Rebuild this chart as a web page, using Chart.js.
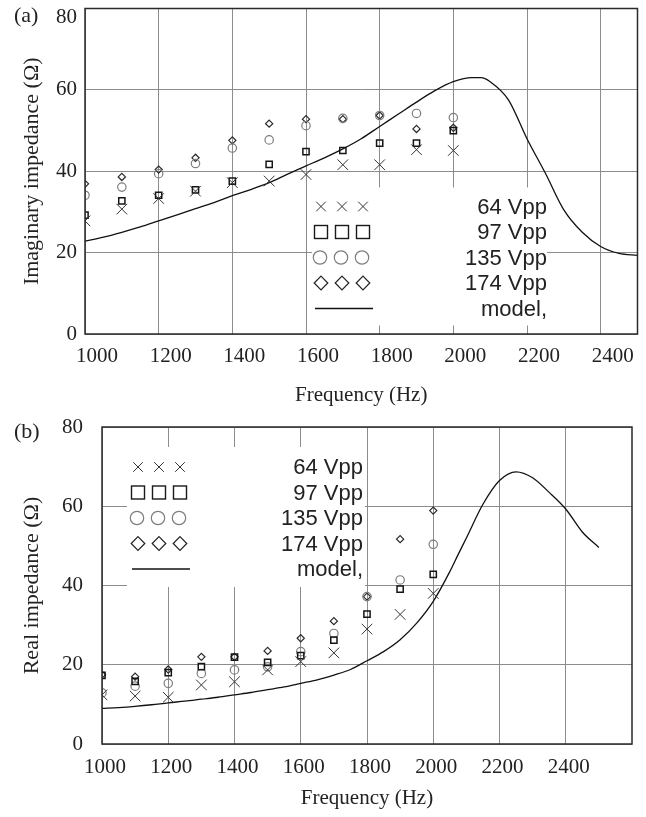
<!DOCTYPE html>
<html>
<head>
<meta charset="utf-8">
<script src="https://cdn.jsdelivr.net/npm/chart.js@4.4.1/dist/chart.umd.min.js"></script>
<style>
  html, body { margin: 0; padding: 0; background: #fff; width: 646px; height: 817px; overflow: hidden; }
  .panel { position: absolute; left: 0; width: 646px; }
  #panelA { top: 0; height: 410px; }
  #panelB { top: 410px; height: 407px; }
</style>
</head>
<body>
<div class="panel" id="panelA"><canvas id="chartA" width="646" height="410"></canvas></div>
<div class="panel" id="panelB"><canvas id="chartB" width="646" height="407"></canvas></div>
<script>
// Measured drive frequencies (Hz)
const freqs = [1000, 1100, 1200, 1300, 1400, 1500, 1600, 1700, 1800, 1900, 2000];

// (a) imaginary impedance (ohm) per drive level
const imag64  = [27.8, 30.7, 33.3, 35.1, 37.2, 37.6, 39.2, 41.6, 41.6, 45.3, 45.1];
const imag97  = [29.2, 32.7, 34.1, 35.4, 37.6, 41.7, 44.8, 45.1, 46.9, 46.9, 50.0];
const imag135 = [34.1, 36.1, 39.4, 41.9, 45.7, 47.7, 51.2, 53.0, 53.7, 54.2, 53.2];
const imag174 = [36.9, 38.6, 40.4, 43.3, 47.6, 51.7, 52.8, 52.8, 53.7, 50.4, 50.7];

// (b) real impedance (ohm) per drive level
const real64  = [12.4, 12.1, 11.8, 14.9, 15.7, 18.7, 20.8, 23.0, 29.0, 32.7, 38.0];
const real97  = [17.3, 15.8, 18.0, 19.5, 21.9, 20.6, 22.3, 26.2, 32.8, 39.1, 42.8];
const real135 = [12.9, 14.6, 15.3, 17.8, 18.7, 19.5, 23.3, 27.9, 37.2, 41.4, 50.4];
const real174 = [17.5, 17.0, 18.8, 22.0, 22.0, 23.5, 26.7, 31.0, 37.2, 51.7, 58.9];

// Model curves
const modelFreqs = [1000, 1050, 1100, 1150, 1200, 1250, 1300, 1350, 1400, 1450, 1500, 1550, 1600,
  1650, 1700, 1750, 1800, 1850, 1900, 1950, 2000, 2050, 2075, 2100, 2150, 2200, 2250, 2300, 2350,
  2400, 2450, 2500];
const modelImag = [22.8, 23.8, 25.0, 26.3, 27.8, 29.3, 30.8, 32.3, 34.0, 35.5, 37.2, 39.3, 41.3,
  43.3, 45.5, 48.0, 51.0, 54.0, 57.0, 59.8, 62.0, 63.0, 63.0, 62.0, 57.5, 48.0, 39.5, 30.5, 25.0,
  21.5, 19.8, 19.3];
const modelReal = [9.0, 9.2, 9.5, 9.9, 10.4, 10.8, 11.3, 11.8, 12.4, 13.0, 13.7, 14.4, 15.3,
  16.2, 17.4, 18.8, 21.0, 23.3, 26.3, 30.5, 36.0, 43.5, 47.8, 52.0, 60.5, 66.5, 68.7, 67.2, 63.5,
  59.3, 53.5, 49.6];

// Axis ticks
const freqTicks = [1000, 1200, 1400, 1600, 1800, 2000, 2200, 2400];
const impTicks = [0, 20, 40, 60, 80];
const seriesLabels = ['64 Vpp', '97 Vpp', '135 Vpp', '174 Vpp', 'model,'];

const SERIF = '"Liberation Serif", "Times New Roman", Times, serif';
const SANS = '"Liberation Sans", Arial, Helvetica, sans-serif';
const INK = '#222';
const GRID = '#8c8c8c';

function pairs(xs, ys) { return xs.map((x, i) => ({ x: x, y: ys[i] })); }

function makeDatasets(s64, s97, s135, s174, model) {
  return [
    { label: seriesLabels[0], data: pairs(freqs, s64), pointStyle: 'crossRot', pointRadius: 7.5,
      borderColor: '#333', borderWidth: 1, backgroundColor: 'transparent', showLine: false },
    { label: seriesLabels[1], data: pairs(freqs, s97), pointStyle: 'rect', pointRadius: 4.4,
      borderColor: '#151515', borderWidth: 1.5, backgroundColor: 'transparent', showLine: false },
    { label: seriesLabels[2], data: pairs(freqs, s135), pointStyle: 'circle', pointRadius: 4.2,
      borderColor: '#7d7d7d', borderWidth: 1.2, backgroundColor: 'transparent', showLine: false },
    { label: seriesLabels[3], data: pairs(freqs, s174), pointStyle: 'rectRot', pointRadius: 3.6,
      borderColor: '#2a2a2a', borderWidth: 1.2, backgroundColor: 'transparent', showLine: false },
    { label: seriesLabels[4], data: pairs(modelFreqs, model), showLine: true, pointRadius: 0,
      borderColor: '#111', borderWidth: 1.3, cubicInterpolationMode: 'monotone', fill: false }
  ];
}

// White legend panel with hand-drawn markers, placed inside the plot area
const plotLegend = {
  id: 'plotLegend',
  beforeDatasetsDraw(chart, args, o) {
    const ctx = chart.ctx;
    const a = chart.chartArea;
    const L = a.left, T = a.top;
    ctx.save();
    ctx.fillStyle = '#fff';
    ctx.fillRect(L + o.box[0], T + o.box[1], o.box[2] - o.box[0], o.box[3] - o.box[1]);
    const rowY = i => T + o.y0 + i * o.rowH;
    const colX = j => L + o.x0 + j * o.dx;
    for (let j = 0; j < 3; j++) {
      // cross
      let x = colX(j), y = rowY(0), h = 4.8;
      ctx.strokeStyle = '#333'; ctx.lineWidth = 1;
      ctx.beginPath(); ctx.moveTo(x - h, y - h); ctx.lineTo(x + h, y + h);
      ctx.moveTo(x - h, y + h); ctx.lineTo(x + h, y - h); ctx.stroke();
      // square
      y = rowY(1);
      ctx.strokeStyle = '#1a1a1a'; ctx.lineWidth = 1.4;
      ctx.strokeRect(x - 6.5, y - 6.5, 13, 13);
      // circle
      y = rowY(2);
      ctx.strokeStyle = '#7d7d7d'; ctx.lineWidth = 1.2;
      ctx.beginPath(); ctx.arc(x - 1, y, 6.7, 0, Math.PI * 2); ctx.stroke();
      // diamond
      y = rowY(3);
      ctx.strokeStyle = '#222'; ctx.lineWidth = 1.2;
      ctx.beginPath(); ctx.moveTo(x, y - 6.8); ctx.lineTo(x + 6.8, y); ctx.lineTo(x, y + 6.8);
      ctx.lineTo(x - 6.8, y); ctx.closePath(); ctx.stroke();
    }
    // model line sample
    ctx.strokeStyle = '#111'; ctx.lineWidth = 1.3;
    ctx.beginPath();
    ctx.moveTo(colX(0) - 6, rowY(4)); ctx.lineTo(colX(2) + 10, rowY(4)); ctx.stroke();
    // labels
    ctx.fillStyle = INK;
    ctx.font = '22px ' + SANS;
    ctx.textAlign = 'right';
    ctx.textBaseline = 'alphabetic';
    seriesLabels.forEach((t, i) => ctx.fillText(t, L + o.textRight, rowY(i) + o.textDy));
    ctx.restore();
  }
};

// Closed frame around the plot area plus the panel tag
const frameAndTag = {
  id: 'frameAndTag',
  afterDraw(chart, args, o) {
    const ctx = chart.ctx;
    const a = chart.chartArea;
    ctx.save();
    ctx.strokeStyle = '#2a2a2a';
    ctx.lineWidth = 1.5;
    ctx.strokeRect(a.left, a.top, a.right - a.left, a.bottom - a.top);
    ctx.fillStyle = INK;
    ctx.font = '22px ' + SERIF;
    ctx.textAlign = 'left';
    ctx.textBaseline = 'middle';
    ctx.fillText(o.text, o.x, o.y);
    ctx.restore();
  }
};

function makeChart(canvasId, cfg) {
  return new Chart(document.getElementById(canvasId), {
    type: 'scatter',
    data: { datasets: cfg.datasets },
    plugins: [plotLegend, frameAndTag],
    options: {
      responsive: false,
      animation: false,
      devicePixelRatio: 1,
      layout: { padding: { left: 0, right: cfg.padRight, top: cfg.padTop, bottom: 0 } },
      plugins: {
        legend: { display: false },
        tooltip: { enabled: false },
        plotLegend: cfg.legend,
        frameAndTag: cfg.tag
      },
      scales: {
        x: {
          type: 'linear',
          min: 1000,
          max: cfg.xMax,
          afterBuildTicks: s => { s.ticks = freqTicks.map(v => ({ value: v })); },
          afterFit: s => { s.height = cfg.xHeight; s.paddingLeft = 0; s.paddingRight = 0; },
          grid: { color: GRID, lineWidth: 1, drawTicks: false },
          border: { display: false },
          ticks: {
            color: INK, font: { family: SERIF, size: 21 }, padding: cfg.xTickPad,
            labelOffset: cfg.xLabelOffset, autoSkip: false, maxRotation: 0,
            callback: v => String(v)
          },
          title: {
            display: true, text: 'Frequency (Hz)', color: INK,
            font: { family: SERIF, size: 21 }, padding: { top: 0, bottom: cfg.xTitlePadBottom }
          }
        },
        y: {
          type: 'linear',
          min: 0,
          max: 80,
          afterBuildTicks: s => { s.ticks = impTicks.map(v => ({ value: v })); },
          afterFit: s => { s.width = cfg.yWidth; s.paddingTop = 0; s.paddingBottom = 0; },
          grid: { color: GRID, lineWidth: 1, drawTicks: false },
          border: { display: false },
          ticks: {
            color: INK, font: { family: SERIF, size: 21, lineHeight: 0.85 }, padding: cfg.yTickPad,
            // the top label sits just under the frame corner when the frame touches the page edge
            callback: v => (cfg.dropTopLabel && v === 80) ? ['', String(v)] : String(v)
          },
          title: {
            display: true, text: cfg.yTitle, color: INK,
            font: { family: SERIF, size: 22 }, padding: { top: 19, bottom: 0 }
          }
        }
      }
    }
  });
}

makeChart('chartA', {
  datasets: makeDatasets(imag64, imag97, imag135, imag174, modelImag),
  xMax: 2500,
  padTop: 6,
  padRight: 8,
  yWidth: 85,
  xHeight: 76,
  xTickPad: 10,
  xLabelOffset: 12,
  xTitlePadBottom: 2,
  yTickPad: 8,
  dropTopLabel: true,
  yTitle: 'Imaginary impedance (Ω)',
  legend: { box: [227, 179, 462, 317], x0: 236, dx: 21, y0: 198, rowH: 25.5, textRight: 462, textDy: 7 },
  tag: { text: '(a)', x: 14, y: 16 }
});

makeChart('chartB', {
  datasets: makeDatasets(real64, real97, real135, real174, modelReal),
  xMax: 2600,
  padTop: 17,
  padRight: 14,
  yWidth: 102,
  xHeight: 73,
  xTickPad: 11,
  xLabelOffset: 3,
  xTitlePadBottom: 6,
  yTickPad: 19,
  dropTopLabel: false,
  yTitle: 'Real impedance (Ω)',
  legend: { box: [25, 20, 263, 160], x0: 36, dx: 21, y0: 40, rowH: 25.5, textRight: 261, textDy: 7 },
  tag: { text: '(b)', x: 14, y: 22 }
});
</script>
</body>
</html>
